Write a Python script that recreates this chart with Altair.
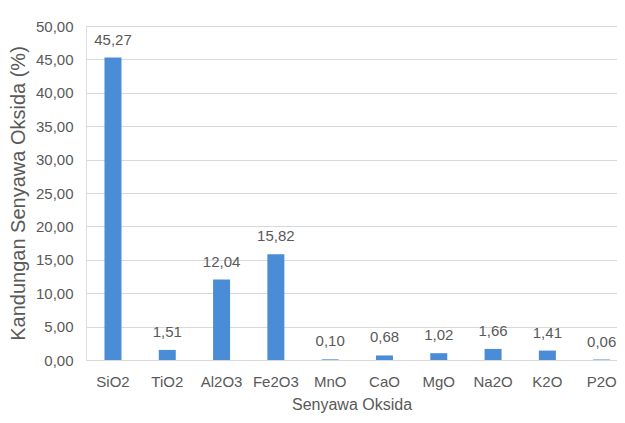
import altair as alt
import pandas as pd

categories = ["SiO2", "TiO2", "Al2O3", "Fe2O3", "MnO", "CaO", "MgO", "Na2O", "K2O", "P2O"]
values = [45.27, 1.51, 12.04, 15.82, 0.10, 0.68, 1.02, 1.66, 1.41, 0.06]

df = pd.DataFrame({"Senyawa": categories, "Nilai": values})

FONT = "Liberation Sans"
GRAY = "#595959"

base = alt.Chart(df).encode(
    x=alt.X("Senyawa:N", sort=categories, title="Senyawa Oksida",
            scale=alt.Scale(paddingInner=0.687, paddingOuter=0.233, align=0.73),
            axis=alt.Axis(labelAngle=0, ticks=False, domainColor="#d9d9d9",
                          labelFontSize=15, labelColor=GRAY, labelPadding=14,
                          titleFontSize=16, titleFontWeight="normal", titleColor=GRAY,
                          titlePadding=7, labelFont=FONT, titleFont=FONT)),
    y=alt.Y("Nilai:Q", title="Kandungan Senyawa Oksida (%)",
            scale=alt.Scale(domain=[0, 50], nice=False),
            axis=alt.Axis(values=list(range(0, 51, 5)),
                          labelExpr="replace(format(datum.value, '.2f'), '.', ',')",
                          ticks=False, domain=False, gridColor="#d9d9d9",
                          labelFontSize=15, labelColor=GRAY, labelPadding=13,
                          titleFontSize=20, titleFontWeight="normal", titleColor=GRAY,
                          titlePadding=7, labelFont=FONT, titleFont=FONT)),
)

bars = base.mark_bar(color="#4a8dd6", size=17)

labels = base.transform_calculate(
    lbl="replace(format(datum.Nilai, '.2f'), '.', ',')"
).mark_text(dy=-13, fontSize=15, color=GRAY, font=FONT, baseline="alphabetic").encode(
    text="lbl:N"
)

chart = (bars + labels).properties(
    width=531, height=334,
    autosize=alt.AutoSizeParams(type="none"),
    padding={"left": 78, "top": 18, "right": 0, "bottom": 55},
).configure_view(stroke=None).configure(background="white")

chart.save("out.html", embed_options={"renderer": "svg", "actions": False})
